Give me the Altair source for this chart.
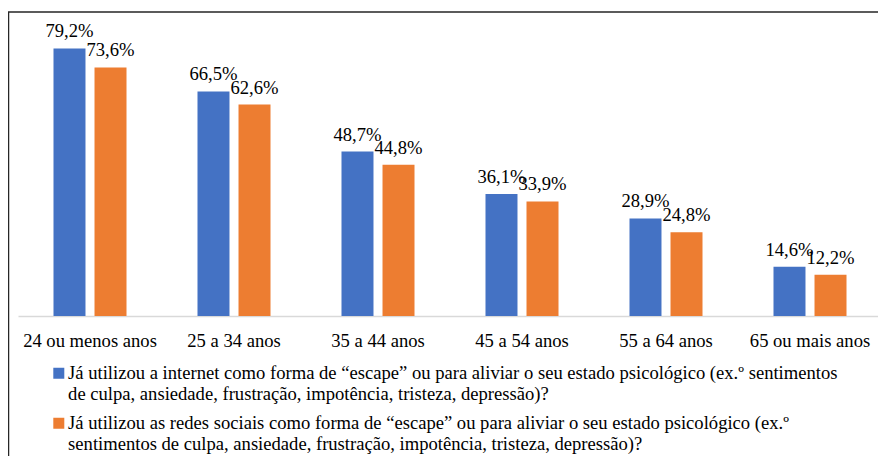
import altair as alt
import pandas as pd

categorias = ["24 ou menos anos", "25 a 34 anos", "35 a 44 anos",
              "45 a 54 anos", "55 a 64 anos", "65 ou mais anos"]
internet = [79.2, 66.5, 48.7, 36.1, 28.9, 14.6]
redes = [73.6, 62.6, 44.8, 33.9, 24.8, 12.2]
series = [
    "Já utilizou a internet como forma de “escape” ou para aliviar o seu estado psicológico (ex.º sentimentos|de culpa, ansiedade, frustração, impotência, tristeza, depressão)?",
    "Já utilizou as redes sociais como forma de “escape” ou para aliviar o seu estado psicológico (ex.º|sentimentos de culpa, ansiedade, frustração, impotência, tristeza, depressão)?",
]
cores = ["#4472C4", "#ED7D31"]

rows = []
for s, vals in zip(series, [internet, redes]):
    for c, v in zip(categorias, vals):
        rows.append({"cat": c, "serie": s, "valor": v,
                     "rotulo": f"{v:.1f}".replace(".", ",") + "%"})
df = pd.DataFrame(rows)

W, H = 860, 304
FONT = "Liberation Serif"
FS = 18.6

base = alt.Chart(df).encode(
    x=alt.X("cat:N", sort=categorias, title=None,
            scale=alt.Scale(paddingInner=0.493, paddingOuter=0.2465, range=[0, W + 4]),
            axis=alt.Axis(labelAngle=0, labelFontSize=FS, labelColor="#000",
                          labelFont=FONT, domainColor="#D9D9D9", domainWidth=1.5,
                          ticks=False, tickSize=0, labelPadding=15, grid=False)),
    xOffset=alt.XOffset("serie:N", sort=series,
                        scale=alt.Scale(paddingInner=0.22, paddingOuter=0)),
    y=alt.Y("valor:Q", scale=alt.Scale(domain=[0, 90]), axis=None),
)

bars = base.mark_bar().encode(
    color=alt.Color("serie:N", scale=alt.Scale(domain=series, range=cores), title=None,
                    legend=alt.Legend(orient="none", legendX=31.5, legendY=358,
                                      direction="vertical",
                                      labelExpr="split(datum.label, '|')",
                                      labelFontSize=FS, labelFont=FONT, labelColor="#000",
                                      labelLimit=0, labelOffset=0,
                                      labelBaseline="alphabetic",
                                      symbolType="M-1,-2.1H1V-0.1H-1Z",
                                      symbolSize=121, symbolStrokeWidth=0,
                                      symbolOpacity=1, rowPadding=10)),
)

text = base.mark_text(dy=-11, baseline="alphabetic", fontSize=FS, font=FONT,
                      color="#000").encode(text="rotulo:N")

frame = alt.Chart(pd.DataFrame({"a": [0]})).mark_rect(
    filled=False, stroke="#262626", strokeWidth=1.5
).encode(x=alt.value(-9.5), x2=alt.value(W + 30), y=alt.value(0), y2=alt.value(H + 200))

chart = alt.layer(bars, text, frame).properties(
    width=W, height=H,
    autosize=alt.AutoSizeParams(type="none"),
    padding={"left": 10, "top": 4, "right": 0, "bottom": 140},
).configure_view(strokeWidth=0)

chart.save("out.html", embed_options={"renderer": "svg", "actions": False})
